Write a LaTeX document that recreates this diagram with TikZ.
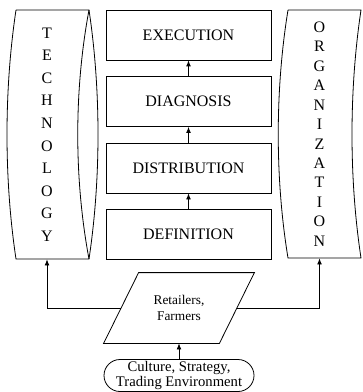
\documentclass[tikz,border=0pt]{standalone}
\usepackage{fontspec}
\setmainfont{Liberation Serif}
\usetikzlibrary{shapes.misc,arrows.meta,calc}
\begin{document}
\begin{tikzpicture}[x=0.75pt,y=-0.75pt,
  line width=0.6pt,
  stagebox/.style={draw,minimum width=123.75pt,minimum height=37.5pt,inner sep=0pt,font=\fontsize{12}{14}\selectfont},
  arr/.style={-{Latex[length=4.5pt,width=3.6pt]}},
  vtext/.style={inner sep=0pt,align=center,minimum height=186.75pt}
]
\useasboundingbox (0,0) rectangle (362,392);
% central boxes
\node[stagebox] (exe) at (188.5,35) {EXECUTION};
\node[stagebox] (dia) at (188.5,101.5) {DIAGNOSIS};
\node[stagebox] (dis) at (188.5,168) {DISTRIBUTION};
\node[stagebox] (def) at (188.5,234) {DEFINITION};
\draw[arr] (def.north) -- (dis.south);
\draw[arr] (dis.north) -- (dia.south);
\draw[arr] (dia.north) -- (exe.south);
% technology
\node[vtext,font=\fontsize{12}{16.9}\selectfont] (tech) at (47,134.5) {T\\E\\C\\H\\N\\O\\L\\O\\G\\Y};
\draw (16,10) -- (89,10) .. controls (101,90) and (101,179) .. (89,259) -- (16,259)
      .. controls (4,179) and (4,90) .. (16,10);
\draw (89,10) .. controls (74,90) and (74,179) .. (89,259);
% organization
\node[vtext,font=\fontsize{12}{14.6}\selectfont,minimum height=186pt] (org) at (319.5,134) {O\\R\\G\\A\\N\\I\\Z\\A\\T\\I\\O\\N};
\draw (288,10) -- (361,10) .. controls (349,90) and (349,179) .. (361,258) -- (288,258)
      .. controls (275,179) and (275,90) .. (288,10);
% retailers
\node[inner sep=0pt,minimum width=112.5pt,minimum height=52.5pt,align=center,font=\fontsize{10}{11.5}\selectfont] (ret) at (179,308) {Retailers,\\Farmers};
\draw ($(ret.north west)+(35,0)$) -- (ret.north east) -- ($(ret.south east)-(35,0)$) -- (ret.south west) -- cycle;
\coordinate (retL) at ($(ret.west)+(17.5,0)$);
\coordinate (retR) at ($(ret.east)-(17.5,0)$);
\draw[arr] (retL) -| (tech.south);
\draw[arr] (retR) -| (org.south);
% culture
\node[draw,rounded rectangle,inner sep=0pt,minimum width=112.5pt,minimum height=24pt,align=center,font=\fontsize{11}{10.8}\selectfont] (cul) at (179,375.5) {Culture, Strategy,\\Trading Environment};
\draw[arr] (cul.north) -- (ret.south);
\end{tikzpicture}
\end{document}
